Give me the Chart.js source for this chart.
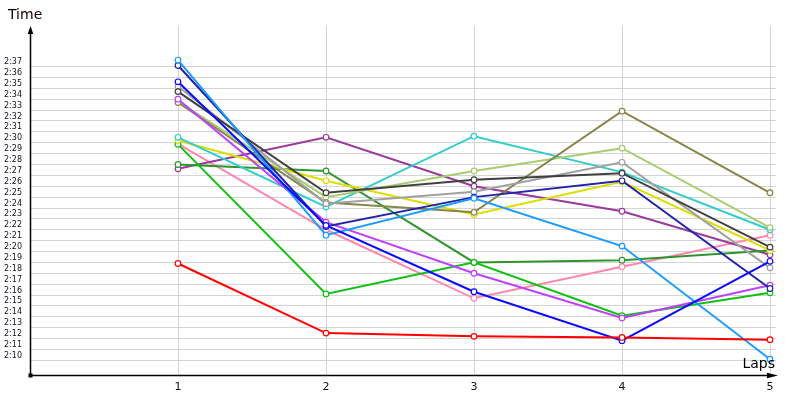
<!DOCTYPE html>
<html>
<head>
<meta charset="utf-8">
<script src="https://cdn.jsdelivr.net/npm/chart.js@4/dist/chart.umd.min.js"></script>
<style>
html,body{margin:0;padding:0;background:#fff;}
#wrap{width:800px;height:400px;position:relative;}
</style>
</head>
<body>
<div id="wrap"><canvas id="c" width="800" height="400"></canvas></div>
<script>
// Categories (laps)
const laps = [1, 2, 3, 4, 5];
// Y tick values (seconds) and their labels
const yTickSeconds = [130,131,132,133,134,135,136,137,138,139,140,141,142,143,144,145,146,147,148,149,150,151,152,153,154,155,156,157];
const yTickLabels = ['2:10','2:11','2:12','2:13','2:14','2:15','2:16','2:17','2:18','2:19','2:20','2:21','2:22','2:23','2:24','2:25','2:26','2:27','2:28','2:29','2:30','2:31','2:32','2:33','2:34','2:35','2:36','2:37'];
// Lap times in seconds, one array per driver
const redTimes        = [138.9, 132.5, 132.2, 132.1, 131.9];
const skyBlueTimes    = [157.6, 141.5, 144.9, 140.5, 130.1];
const blueTimes       = [155.6, 142.4, 136.3, 131.8, 139.1];
const indigoTimes     = [157.1, 142.3, 145.0, 146.5, 136.6];
const violetTimes     = [154.0, 142.7, 138.0, 133.9, 136.9];
const darkGrayTimes   = [154.7, 145.4, 146.6, 147.2, 140.4];
const grayTimes       = [155.2, 144.4, 145.5, 148.2, 138.5];
const oliveTimes      = [153.7, 144.5, 143.6, 152.9, 145.4];
const lightGreenTimes = [153.8, 145.0, 147.4, 149.5, 142.2];
const cyanTimes       = [150.5, 144.1, 150.6, 147.3, 142.0];
const yellowTimes     = [150.2, 146.5, 143.4, 146.4, 140.1];
const greenTimes      = [149.85, 136.1, 139.0, 134.1, 136.2];
const darkGreenTimes  = [148.0, 147.4, 139.0, 139.2, 140.1];
const purpleTimes     = [147.6, 150.5, 146.0, 143.7, 139.7];
const pinkTimes       = [149.9, 142.0, 135.7, 138.6, 141.5];

const seriesList = [
  [redTimes, '#ff0000'],
  [blueTimes, '#0a0aff'],
  [skyBlueTimes, '#1a9bff'],
  [indigoTimes, '#2222aa'],
  [violetTimes, '#c040ff'],
  [darkGrayTimes, '#404040'],
  [grayTimes, '#a0a0a0'],
  [oliveTimes, '#86864a'],
  [lightGreenTimes, '#a8cc70'],
  [cyanTimes, '#33cccc'],
  [yellowTimes, '#dddd00'],
  [greenTimes, '#10c010'],
  [darkGreenTimes, '#2e952e'],
  [purpleTimes, '#9a3a9a'],
  [pinkTimes, '#ff88aa']
];

const datasets = seriesList.map(([vals, col]) => ({
  data: laps.map((l, i) => ({x: l, y: vals[i]})),
  borderColor: col,
  backgroundColor: '#ffffff',
  pointBackgroundColor: '#ffffff',
  pointBorderColor: col,
  pointRadius: 2.8,
  pointBorderWidth: 1.2,
  borderWidth: 2,
  tension: 0
}));

const axesPlugin = {
  id: 'axesPlugin',
  afterDraw(chart) {
    const ctx = chart.ctx;
    const a = chart.chartArea;
    const x0 = 30.5, y0 = 375.5;
    ctx.save();
    ctx.strokeStyle = '#000';
    ctx.fillStyle = '#000';
    ctx.lineWidth = 1.5;
    // y axis
    ctx.beginPath(); ctx.moveTo(x0, y0); ctx.lineTo(x0, 32); ctx.stroke();
    ctx.beginPath(); ctx.moveTo(x0, 26); ctx.lineTo(x0 - 2.8, 34); ctx.lineTo(x0 + 2.8, 34); ctx.closePath(); ctx.fill();
    // x axis
    ctx.beginPath(); ctx.moveTo(x0, y0); ctx.lineTo(771, y0); ctx.stroke();
    ctx.beginPath(); ctx.moveTo(778, y0); ctx.lineTo(767, y0 - 2.8); ctx.lineTo(767, y0 + 2.8); ctx.closePath(); ctx.fill();
    // origin square
    ctx.fillRect(x0 - 2, y0 - 2, 4, 4);
    // axis titles
    ctx.font = '14px "DejaVu Sans"';
    ctx.fillStyle = '#1a0000';
    ctx.textBaseline = 'middle';
    ctx.textAlign = 'left';
    ctx.fillText('Time', 8, 15);
    ctx.fillStyle = '#000';
    ctx.textAlign = 'right';
    ctx.fillText('Laps', 775, 364);
    ctx.restore();
  }
};

new Chart(document.getElementById('c'), {
  type: 'line',
  data: { datasets },
  options: {
    responsive: false,
    animation: false,
    events: [],
    layout: { padding: { left: 4, top: 26, right: 24, bottom: 0 } },
    plugins: { legend: { display: false }, tooltip: { enabled: false } },
    scales: {
      x: {
        type: 'linear',
        min: 0,
        max: 5.0405,
        afterBuildTicks(s) { s.ticks = laps.map(v => ({value: v})); },
        afterFit(s) { s.height = 25; },
        grid: { color: '#d4d4d4', lineWidth: 1, drawTicks: false },
        border: { display: false },
        ticks: {
          padding: 6,
          color: '#111',
          font: { family: 'DejaVu Sans', size: 11 },
          maxRotation: 0,
          autoSkip: false,
          callback: (v) => String(v)
        }
      },
      y: {
        type: 'linear',
        min: 128.649,
        max: 160.73,
        afterBuildTicks(s) { s.ticks = yTickSeconds.map(v => ({value: v})); },
        afterFit(s) { s.width = 26; },
        grid: { color: '#d4d4d4', lineWidth: 1, drawTicks: false },
        border: { display: false },
        ticks: {
          crossAlign: 'far',
          labelOffset: -4.5,
          color: '#1a1020',
          font: { family: 'DejaVu Sans', size: 8 },
          autoSkip: false,
          callback: (v) => { const i = yTickSeconds.indexOf(v); return i >= 0 ? yTickLabels[i] : ''; }
        }
      }
    }
  },
  plugins: [axesPlugin]
});
</script>
</body>
</html>
